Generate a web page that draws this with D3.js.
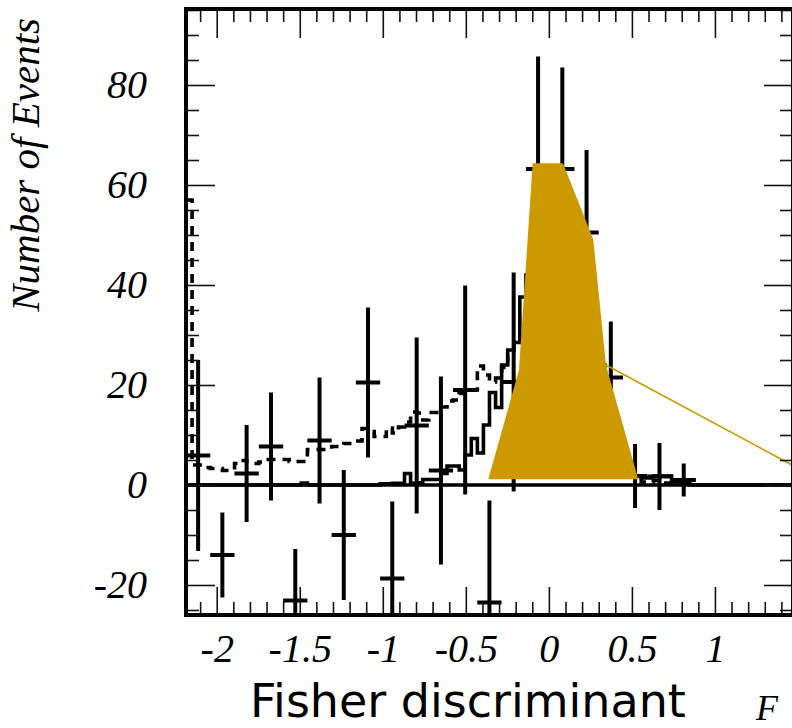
<!DOCTYPE html>
<html>
<head>
<meta charset="utf-8">
<script src="https://cdn.jsdelivr.net/npm/d3@7"></script>
<style>
  html, body { margin: 0; padding: 0; background: #ffffff; }
  svg { display: block; }
</style>
</head>
<body>
<svg id="chart" width="792" height="728"></svg>
<script>
// Axis ranges of the frame
const xRange = [-2.185, 1.470];
const yRange = [-26, 95.2];

// Tick values and their printed labels
const xTickValues = [-2, -1.5, -1, -0.5, 0, 0.5, 1];
const xTickLabels = ["-2", "-1.5", "-1", "-0.5", "0", "0.5", "1"];
const yTickValues = [-20, 0, 20, 40, 60, 80];
const yTickLabels = ["-20", "0", "20", "40", "60", "80"];

// Background-subtracted data: bin centres, values and errors
const pointX = [-2.112, -1.966, -1.820, -1.673, -1.527, -1.381, -1.235, -1.089, -0.943, -0.796, -0.650,
                -0.504, -0.358, -0.212, -0.065, 0.081, 0.227, 0.373, 0.519, 0.666, 0.812];
const pointY = [5.9, -14.0, 2.3, 7.7, -23.1, 8.9, -10.0, 20.5, -18.7, 11.9, 2.9,
                19.0, -23.5, 20.6, 63.2, 63.2, 50.5, 21.5, 1.8, 1.7, 1.0];
const pointErr = [19.1, 8.5, 9.7, 10.8, 10.3, 12.6, 13.0, 15.0, 15.4, 17.6, 18.8,
                  20.9, 20.4, 21.9, 22.5, 20.3, 16.5, 11.2, 6.4, 6.7, 3.3];
const pointHalfWidth = 0.0731;

// Fine-binned reference histograms (100 bins across the frame)
const dashedCounts = [
  57, 4.0, 4.0, 3.5, 3.3, 3.3, 2.9, 2.9, 4.3, 4.9,
  4.3, 4.3, 4.6, 5.1, 5.1, 5.1, 5.1, 4.7, 4.7, 4.7,
  7.1, 7.1, 7.1, 7.1, 7.7, 7.7, 8.3, 8.3, 8.8, 11.3,
  10.7, 9.7, 9.7, 11.4, 10.4, 11.6, 12.6, 14.6, 14.4, 13.0,
  14.5, 14.5, 15.6, 16.8, 17.0, 18.3, 18.6, 19.0, 23.8, 22.0,
  20.6, 21.4, 23.5, 26, 28, 31, 34, 36, 37, 38,
  38, 37, 36, 34, 31, 28, 25, 22, 18, 15,
  11, 8, 5.5, 3.5, 2.0, 0.6, 0.5, 0.9, 0.4, 0.4,
  0.6, 0.3, 0, 0, 0, 0, 0, 0, 0, 0,
  0, 0, 0, 0, 0, 0, 0, 0, 0, 0
];
const solidCounts = [
  0, 0, 0, 0, 0, 0, 0, 0, 0, 0,
  0, 0, 0, 0, 0, 0, 0, 0, 0, 0.4,
  0, 0, 0, 0, 0, 0, 0, 0, 0, 0,
  0, 0, 0.25, 0.25, 0.35, 0.35, 2.3, 0.35, 0.45, 1.1,
  1.1, 1.1, 2.3, 3.8, 3.8, 3.0, 6.0, 9.3, 6.4, 12.0,
  18.5, 15.5, 24.0, 27.0, 28.5, 37.6, 42, 48, 52, 55,
  58, 57, 55, 52, 48, 42, 36, 30, 24, 18,
  13, 9, 6, 2.8, 1.8, 1.4, 1.4, 1.8, 1.8, 1.8,
  0.7, 0.6, 0.4, 0, 0, 0, 0, 0, 0, 0,
  0, 0, 0, 0, 0, 0, 0, 0, 0, 0
];

// Highlighted signal region outline and its pointer line
const signalShapeX = [-0.365, -0.180, -0.0975, 0.085, 0.2674, 0.3438, 0.5383];
const signalShapeY = [1.14, 23.0, 64.34, 64.34, 49.14, 24.0, 1.14];
const pointerX = [0.344, 1.512];
const pointerY = [24.0, 3.14];

const svg = d3.select("#chart");
const frame = { left: 186, right: 793, top: 9, bottom: 615 };

const x = d3.scaleLinear().domain(xRange).range([frame.left, frame.right]);
const y = d3.scaleLinear().domain(yRange).range([frame.bottom, frame.top]);

svg.append("rect").attr("width", 792).attr("height", 728).attr("fill", "#ffffff");

svg.append("defs").append("clipPath").attr("id", "plot-clip")
  .append("rect")
  .attr("x", frame.left).attr("y", frame.top)
  .attr("width", frame.right - frame.left).attr("height", frame.bottom - frame.top);

const plot = svg.append("g").attr("clip-path", "url(#plot-clip)");

// Histogram bin edges
const nBins = dashedCounts.length;
const binW = (xRange[1] - xRange[0]) / nBins;
const edges = d3.range(nBins + 1).map(i => xRange[0] + i * binW);

function stepPoints(counts) {
  const pts = counts.map((c, i) => [edges[i], c]);
  pts.push([edges[nBins], counts[nBins - 1]]);
  return pts;
}
const stepLine = d3.line().x(d => x(d[0])).y(d => y(d[1])).curve(d3.curveStepAfter);

// Dashed histogram
plot.append("path")
  .attr("d", stepLine(stepPoints(dashedCounts)))
  .attr("fill", "none").attr("stroke", "#000")
  .attr("stroke-width", 3.6).attr("stroke-dasharray", "9 7");

// Solid histogram
plot.append("path")
  .attr("d", stepLine(stepPoints(solidCounts)))
  .attr("fill", "none").attr("stroke", "#000")
  .attr("stroke-width", 3.6);

// Zero line
plot.append("line")
  .attr("x1", x(xRange[0])).attr("x2", x(xRange[1]))
  .attr("y1", y(0)).attr("y2", y(0))
  .attr("stroke", "#000").attr("stroke-width", 3.5);

// Data points with error bars
const pts = pointX.map((px, i) => ({ x: px, y: pointY[i], e: pointErr[i] }));
const pg = plot.append("g").attr("stroke", "#000").attr("stroke-width", 4);
pg.selectAll("line.v").data(pts).join("line").attr("class", "v")
  .attr("x1", d => x(d.x)).attr("x2", d => x(d.x))
  .attr("y1", d => y(d.y + d.e)).attr("y2", d => y(d.y - d.e));
pg.selectAll("line.h").data(pts).join("line").attr("class", "h")
  .attr("x1", d => x(d.x - pointHalfWidth)).attr("x2", d => x(d.x + pointHalfWidth))
  .attr("y1", d => y(d.y)).attr("y2", d => y(d.y));

// Highlighted signal region
const gold = "#cc9900";
const shape = signalShapeX.map((v, i) => [v, signalShapeY[i]]);
svg.append("path")
  .attr("d", d3.line().x(d => x(d[0])).y(d => y(d[1]))(shape) + "Z")
  .attr("fill", gold).attr("stroke", "none");

svg.append("line")
  .attr("x1", x(pointerX[0])).attr("y1", y(pointerY[0]))
  .attr("x2", x(pointerX[1])).attr("y2", y(pointerY[1]))
  .attr("stroke", gold).attr("stroke-width", 1.6);

// Axes ticks
const xMinor = d3.range(-21, 15).map(i => i / 10).filter(v => Math.abs(v * 2 - Math.round(v * 2)) > 1e-6);
const yMinor = d3.range(-25, 96, 5).filter(v => v % 20 !== 0);

function styleAxis(g) {
  g.select(".domain").remove();
  g.selectAll(".tick line").attr("stroke", "#111").attr("stroke-width", 1.6);
  g.selectAll(".tick text")
    .attr("fill", "#000")
    .style("font-family", "'Liberation Serif', 'Times New Roman', serif")
    .style("font-style", "italic")
    .style("font-size", "40px");
}

svg.append("g").attr("transform", `translate(0,${frame.bottom})`)
  .call(d3.axisBottom(x).tickValues(xTickValues).tickFormat((d, i) => xTickLabels[i])
    .tickSize(-28).tickPadding(19))
  .call(styleAxis);
svg.append("g").attr("transform", `translate(0,${frame.bottom})`)
  .call(d3.axisBottom(x).tickValues(xMinor).tickFormat("").tickSize(-13))
  .call(styleAxis);
svg.append("g").attr("transform", `translate(0,${frame.top})`)
  .call(d3.axisTop(x).tickValues(xTickValues).tickFormat("").tickSize(-29))
  .call(styleAxis);
svg.append("g").attr("transform", `translate(0,${frame.top})`)
  .call(d3.axisTop(x).tickValues(xMinor).tickFormat("").tickSize(-13))
  .call(styleAxis);

svg.append("g").attr("transform", `translate(${frame.left},0)`)
  .call(d3.axisLeft(y).tickValues(yTickValues).tickFormat((d, i) => yTickLabels[i])
    .tickSize(-29).tickPadding(39))
  .call(styleAxis);
svg.append("g").attr("transform", `translate(${frame.left},0)`)
  .call(d3.axisLeft(y).tickValues(yMinor).tickFormat("").tickSize(-13))
  .call(styleAxis);
svg.append("g").attr("transform", `translate(${frame.right},0)`)
  .call(d3.axisRight(y).tickValues(yTickValues).tickFormat("").tickSize(-29))
  .call(styleAxis);
svg.append("g").attr("transform", `translate(${frame.right},0)`)
  .call(d3.axisRight(y).tickValues(yMinor).tickFormat("").tickSize(-13))
  .call(styleAxis);

// Frame
svg.append("rect")
  .attr("x", frame.left).attr("y", frame.top)
  .attr("width", frame.right - frame.left).attr("height", frame.bottom - frame.top)
  .attr("fill", "none").attr("stroke", "#000").attr("stroke-width", 4);

// Titles
svg.append("text")
  .attr("transform", "translate(39,18) rotate(-90)")
  .attr("text-anchor", "end")
  .style("font-family", "'Liberation Serif', 'Times New Roman', serif")
  .style("font-style", "italic")
  .style("font-size", "41px")
  .attr("fill", "#000")
  .text("Number of Events");

svg.append("text")
  .attr("x", 250).attr("y", 717)
  .style("font-family", "'DejaVu Sans', Verdana, sans-serif")
  .style("font-size", "46px")
  .attr("fill", "#000")
  .text("Fisher discriminant");

svg.append("text")
  .attr("x", 756).attr("y", 720)
  .style("font-family", "'Liberation Serif', 'Times New Roman', serif")
  .style("font-style", "italic")
  .style("font-size", "36px")
  .attr("fill", "#000")
  .text("F");
</script>
</body>
</html>
